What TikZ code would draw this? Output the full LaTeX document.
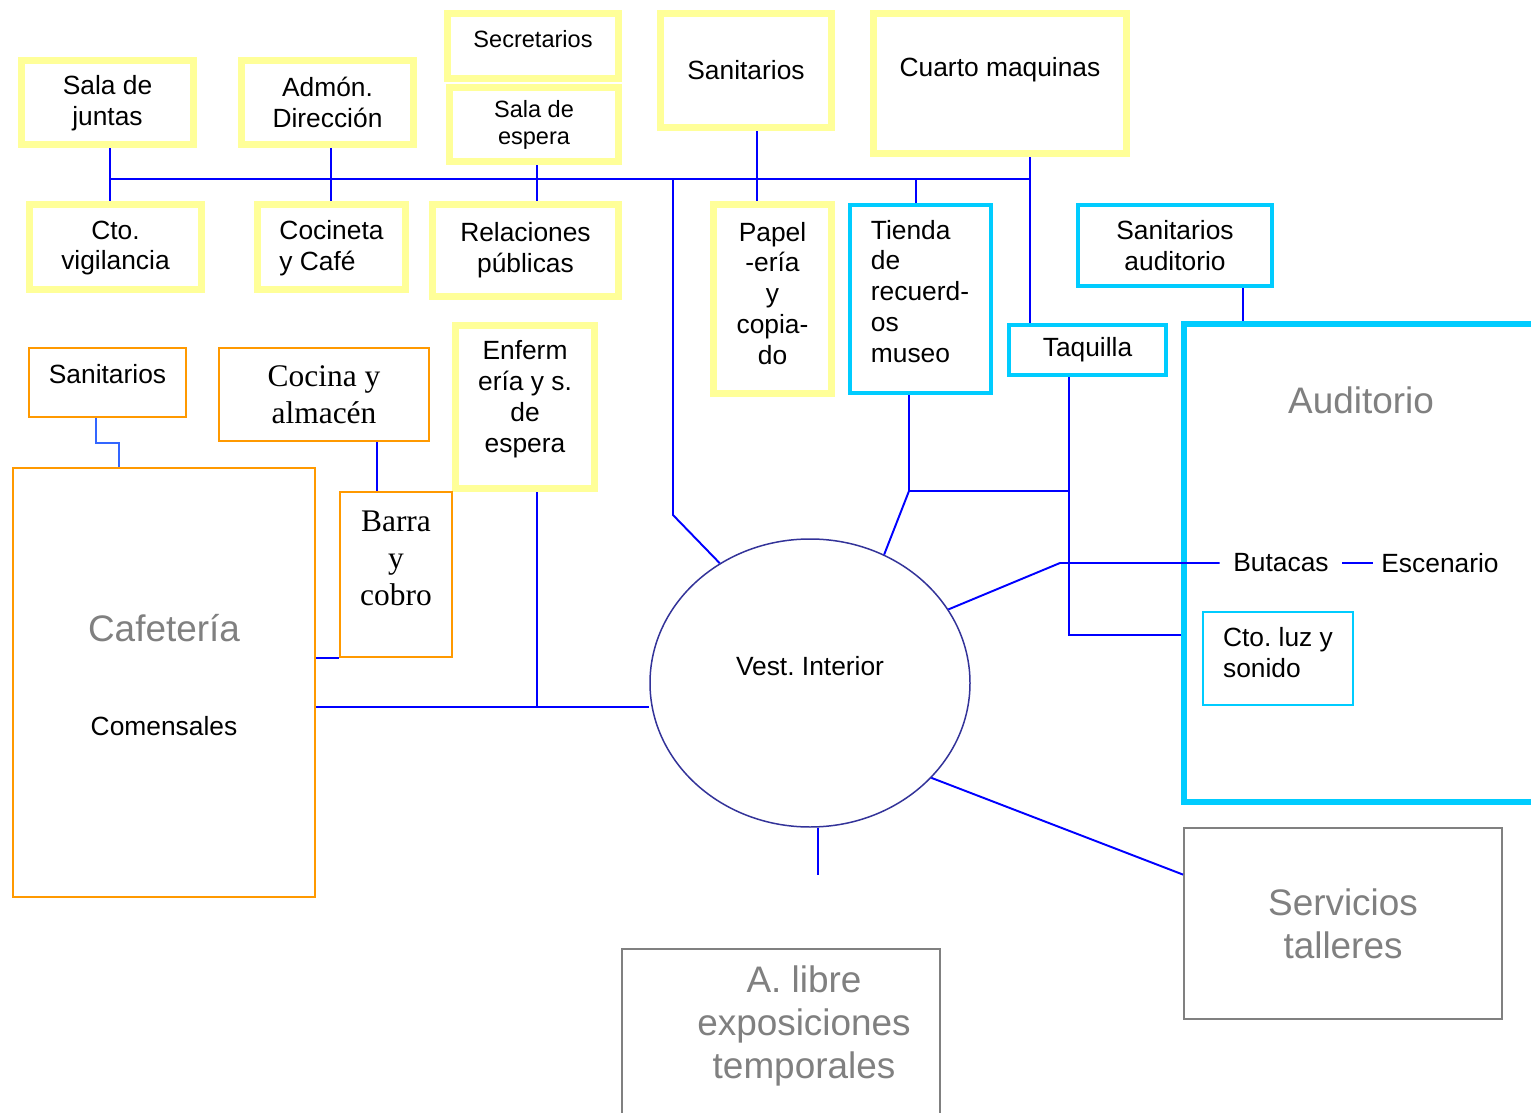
\documentclass[tikz,border=0pt]{standalone}
\usepackage{fontspec}
\setmainfont{Liberation Sans}
\newfontfamily\timesfont{Liberation Serif}
\usepackage{xcolor}
\usetikzlibrary{shapes.geometric}

\definecolor{roomyellow}{HTML}{FFFF99}
\definecolor{roomcyan}{HTML}{00CCFF}
\definecolor{roomorange}{HTML}{FF9900}
\definecolor{areagray}{HTML}{808080}
\definecolor{ovalblue}{HTML}{333399}
\definecolor{wireblue}{HTML}{0000FF}
\definecolor{stepblue}{HTML}{3366FF}

\newcommand{\roomfont}{\fontsize{15pt}{17.6pt}\selectfont}
\newcommand{\roomfontsmall}{\fontsize{13.4pt}{15.4pt}\selectfont}
\newcommand{\areafont}{\fontsize{21pt}{24.5pt}\selectfont}
\newcommand{\barfont}{\timesfont\fontsize{17.9pt}{21pt}\selectfont}
\frenchspacing

\begin{document}
\begin{tikzpicture}[
  yroom/.style={draw=roomyellow, line width=4pt, inner sep=2pt, align=center, font=\roomfont},
  croom/.style={draw=roomcyan, line width=2.3pt, inner sep=2pt, align=center, font=\roomfont},
  oroom/.style={draw=roomorange, line width=1.4pt, inner sep=2pt, align=center, font=\roomfont},
  groom/.style={draw=areagray, line width=1.1pt, inner sep=2pt, align=center, font=\areafont, text=areagray},
  roomtext/.style={inner sep=0pt, align=center, font=\roomfont},
  areatext/.style={inner sep=0pt, align=center, font=\areafont, text=areagray},
  wire/.style={draw=wireblue, line width=1.1pt},
]

\useasboundingbox[fill=white] (0,0) rectangle (30.62,-22.26);

% === Administration (top row) ===
\node[yroom, minimum width=3.44cm, minimum height=1.68cm] (salajuntas) at (2.15,-2.05) {};
\node[roomtext] (salajuntas-txt) at (2.15,-2.07) {Sala de\\juntas};
\node[yroom, minimum width=3.44cm, minimum height=1.68cm] (admon) at (6.55,-2.05) {Admón.\\Dirección};
\node[yroom, minimum width=3.42cm, minimum height=1.30cm] (secretarios) at (10.66,-0.92) {};
\node[roomtext, font=\roomfontsmall] (secretarios-txt) at (10.66,-0.78) {Secretarios};
\node[yroom, font=\roomfontsmall, minimum width=3.38cm, minimum height=1.48cm] (salaespera) at (10.68,-2.49) {Sala de\\espera};
\node[yroom, minimum width=3.42cm, minimum height=2.28cm] (sanitop) at (14.92,-1.41) {Sanitarios};
\node[yroom, minimum width=5.06cm, minimum height=2.80cm] (cuarto) at (20.00,-1.67) {};
\node[roomtext] (cuarto-txt) at (20.00,-1.40) {Cuarto maquinas};

% === Administration (second row) ===
\node[yroom, minimum width=3.44cm, minimum height=1.70cm] (ctovig) at (2.31,-4.94) {};
\node[roomtext] (ctovig-txt) at (2.31,-4.96) {Cto.\\vigilancia};
\node[yroom, align=left, minimum width=2.96cm, minimum height=1.70cm] (cocineta) at (6.63,-4.94) {};
\node[roomtext, align=left] (cocineta-txt) at (6.63,-4.96) {Cocineta\\y Café};
\node[yroom, minimum width=3.72cm, minimum height=1.84cm] (relaciones) at (10.51,-5.01) {Relaciones\\públicas};
\node[yroom, minimum width=2.36cm, minimum height=3.78cm] (papeleria) at (15.45,-5.98) {};
\node[roomtext] (papeleria-txt) at (15.45,-5.87) {Papel\\-ería\\y\\copia-\\do};
\node[yroom, minimum width=2.78cm, minimum height=3.26cm] (enfermeria) at (10.50,-8.14) {};
\node[roomtext] (enfermeria-txt) at (10.50,-7.98) {Enferm\\ería y s.\\de\\espera};

% === Museum services (cyan) ===
\node[croom, minimum width=2.82cm, minimum height=3.76cm] (tienda) at (18.41,-5.98) {};
\node[roomtext, align=left] (tienda-txt) at (18.40,-5.83) {Tienda\\de\\recuerd-\\os\\museo};
\node[croom, minimum width=3.88cm, minimum height=1.62cm] (saniaud) at (23.50,-4.91) {Sanitarios\\auditorio};
\node[croom, minimum width=3.14cm, minimum height=1.00cm] (taquilla) at (21.75,-7.00) {Taquilla};
\node[croom, line width=3.4pt, minimum width=7.22cm, minimum height=9.56cm] (auditorio) at (27.29,-11.26) {};
\node[areatext] (auditorio-txt) at (27.22,-8.00) {Auditorio};
\node[croom, line width=1.1pt, minimum width=3.00cm, minimum height=1.86cm] (ctoluz) at (25.56,-13.17) {};
\node[roomtext, align=left] (ctoluz-txt) at (25.56,-13.05) {Cto. luz y\\sonido};
\node[roomtext, inner xsep=0.27cm] (butacas) at (25.62,-11.26) {Butacas};
\node[roomtext, inner xsep=0.16cm] (escenario) at (28.80,-11.26) {Escenario};

% === Cafeteria (orange) ===
\node[oroom, minimum width=3.14cm, minimum height=1.38cm] (sanileft) at (2.15,-7.65) {};
\node[roomtext] (sanileft-txt) at (2.15,-7.48) {Sanitarios};
\node[oroom, font=\barfont, minimum width=4.20cm, minimum height=1.86cm] (cocina) at (6.48,-7.89) {Cocina y\\almacén};
\node[oroom, minimum width=2.24cm, minimum height=3.30cm] (barra) at (7.92,-11.49) {};
\node[roomtext, font=\barfont] (barra-txt) at (7.92,-11.16) {Barra\\y\\cobro};
\node[oroom, minimum width=6.04cm, minimum height=8.58cm] (cafeteria) at (3.28,-13.65) {};
\node[areatext] (cafeteria-txt) at (3.28,-12.56) {Cafetería};
\node[roomtext] (comensales) at (3.28,-14.52) {Comensales};

% === Vestibule and gray areas ===
\node[draw=ovalblue, line width=0.85pt, ellipse, inner sep=0pt,
      minimum width=6.40cm, minimum height=5.76cm] (ve) at (16.20,-13.66) {};
\node[roomtext] (ve-txt) at (16.20,-13.32) {Vest. Interior};
\node[groom, minimum width=6.36cm, minimum height=3.82cm] (servicios) at (26.86,-18.47) {Servicios\\talleres};
\node[groom, minimum width=6.36cm, minimum height=3.62cm] (alibre) at (15.62,-20.79) {};
\node[areatext] (alibre-txt) at (16.08,-20.52) {A. libre\\exposiciones\\temporales};

% === Junction points ===
\coordinate (j1) at (2.20,-3.58);
\coordinate (j2) at (6.62,-3.58);
\coordinate (j3) at (10.74,-3.58);
\coordinate (j4) at (15.14,-3.58);
\coordinate (j5) at (13.46,-3.58);
\coordinate (j6) at (18.32,-3.58);
\coordinate (j7) at (20.60,-3.58);
\coordinate (k1) at (10.74,-14.14);
\coordinate (k2) at (18.18,-9.82);
\coordinate (k3) at (21.38,-9.82);
\coordinate (k4) at (21.38,-12.70);
\coordinate (k5) at (21.20,-11.26);
\coordinate (k6) at (24.86,-6.48);
\coordinate (k7) at (13.46,-10.30);
\coordinate (k8) at (1.92,-8.86);
\coordinate (k9) at (2.38,-8.86);
\coordinate (k10) at (7.54,-9.30);
\coordinate (vbot) at (16.36,-17.50);

% === Connectors ===
\draw[wire] (j1) -- (j7);
\foreach \up/\down/\j in {salajuntas/ctovig/j1, admon/cocineta/j2,
                          salaespera/relaciones/j3, sanitop/papeleria/j4} {
  \draw[wire] (\up.south -| \j) -- (\down.north -| \j);
}
\draw[wire] (j6) -- (tienda.north -| j6);
\draw[wire] (cuarto.south -| j7) -- (taquilla.north -| j7);
\draw[wire] (j5) -- (k7) -- (ve.127);
\draw[wire] (tienda.south -| k2) -- (k2) -- (ve.60);
\draw[wire] (k2) -- (k3);
\draw[wire] (taquilla.south -| k4) -- (k4) -- (k4 -| auditorio.west);
\draw[wire] (saniaud.south -| k6) -- (auditorio.north -| k6);
\draw[wire] (ve.28) -- (k5) -- (butacas.west);
\draw[wire] (butacas.east) -- (escenario.west);
\draw[wire] (ve.-38.4) -- (servicios.163);
\draw[wire] (ve.south -| vbot) -- (vbot);
\draw[wire] (enfermeria.south -| k1) -- (k1);
\draw[wire] (cafeteria.east |- k1) -- (k1 -| ve.west);
\draw[wire] (cocina.south -| k10) -- (barra.north -| k10);
\draw[wire] (barra.south west -| cafeteria.east) -- (barra.south west);
\draw[wire, draw=stepblue] (sanileft.south -| k8) -- (k8) -- (k9) -- (cafeteria.north -| k9);

\end{tikzpicture}
\end{document}
